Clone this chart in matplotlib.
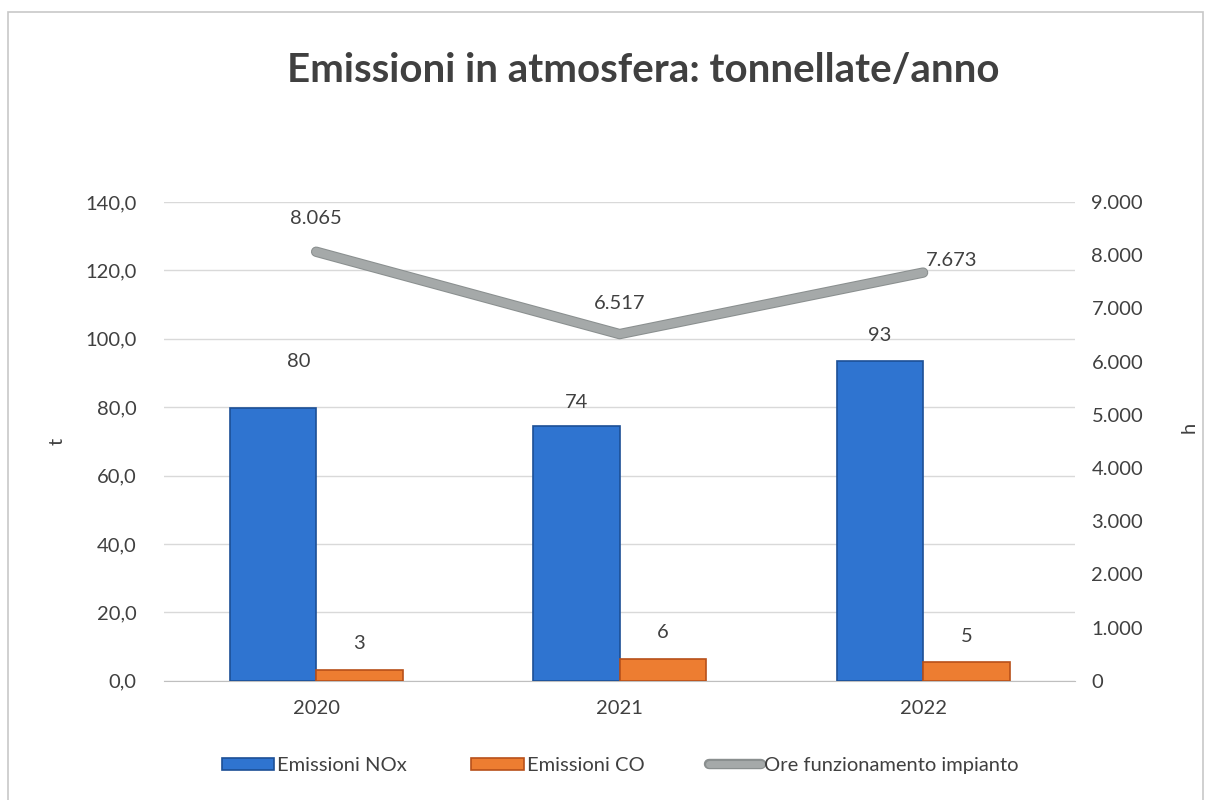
import matplotlib
matplotlib.use("Agg")
import matplotlib.pyplot as plt
import matplotlib.patheffects as pe
from matplotlib.patches import Rectangle
from matplotlib.ticker import FuncFormatter, MultipleLocator
import numpy as np

plt.rcParams["font.family"] = ["Lato", "DejaVu Sans"]

# dati
anni = ["2020", "2021", "2022"]
emissioni_nox = [79.8, 74.4, 93.4]
emissioni_co = [3.2, 6.4, 5.4]
ore_funzionamento = [8065, 6517, 7673]

testo = "#404040"
blu = "#2F74D0"
arancio = "#ED7D31"
grigio = "#A5A9A9"
fs = 14.5

fig = plt.figure(figsize=(12.09, 8.0), dpi=100)

# cornice del grafico
fig.patches.append(Rectangle((0.007, -0.01), 0.988, 0.995, transform=fig.transFigure,
                             fill=False, edgecolor="#c8c8c8", linewidth=1.2))

ax = fig.add_axes([0.136, 0.149, 0.753, 0.5985])
x = np.arange(len(anni))
w = 0.285

ax.bar(x - w / 2, emissioni_nox, w, color=blu, edgecolor="#1C4F96",
       linewidth=1.2, label="Emissioni NOx", zorder=3)
ax.bar(x + w / 2, emissioni_co, w, color=arancio, edgecolor="#B8501A",
       linewidth=1.2, label="Emissioni CO", zorder=3)

ax.set_ylim(0, 140)
ax.set_xlim(-0.5, 2.5)
ax.yaxis.set_major_locator(MultipleLocator(20))
ax.yaxis.set_major_formatter(FuncFormatter(lambda v, p: f"{v:.1f}".replace(".", ",")))
ax.set_xticks(x)
ax.set_xticklabels(anni)
ax.grid(axis="y", color="#d9d9d9", linewidth=1, zorder=0)
for s in ["top", "right", "left"]:
    ax.spines[s].set_visible(False)
ax.spines["bottom"].set_color("#bfbfbf")
ax.tick_params(axis="both", length=0, labelsize=fs, colors=testo, pad=14)
ax.tick_params(axis="y", pad=20)
ax.set_ylabel("t", fontsize=fs, color=testo, labelpad=14)

# etichette barre (px sopra la barra, spostamento x)
off_nox = [46, 24, 26]
dx_nox = [0.085, 0, 0]
for i, v in enumerate(emissioni_nox):
    ax.annotate(f"{v:.0f}", (x[i] - w / 2 + dx_nox[i], v), xytext=(0, off_nox[i] * 0.72),
                textcoords="offset points", ha="center", va="center", fontsize=fs, color=testo)
for i, v in enumerate(emissioni_co):
    ax.annotate(f"{v:.0f}", (x[i] + w / 2, v), xytext=(0, 26 * 0.72),
                textcoords="offset points", ha="center", va="center", fontsize=fs, color=testo)

# asse secondario: ore
ax2 = ax.twinx()
ax2.set_ylim(0, 9000)
ax2.yaxis.set_major_locator(MultipleLocator(1000))
ax2.yaxis.set_major_formatter(FuncFormatter(lambda v, p: f"{int(v):,}".replace(",", ".")))
for s in ax2.spines.values():
    s.set_visible(False)
ax2.tick_params(axis="y", length=0, labelsize=fs, colors=testo, pad=12)
ax2.set_ylabel("h", fontsize=fs, color=testo, rotation=90)
ax2.yaxis.set_label_coords(1.116, 0.53)

ax2.plot(x, ore_funzionamento, color=grigio, linewidth=6, solid_capstyle="round",
         label="Ore funzionamento impianto", zorder=4,
         path_effects=[pe.Stroke(linewidth=7.5, foreground="#8a8f8f"), pe.Normal()])

lab_off = [(0, 33), (0, 31), (29, 12)]
for i, v in enumerate(ore_funzionamento):
    ax2.annotate(f"{v:,}".replace(",", "."), (x[i], v),
                 xytext=(lab_off[i][0] * 0.72, lab_off[i][1] * 0.72),
                 textcoords="offset points", ha="center", va="center", fontsize=fs, color=testo)

fig.suptitle("Emissioni in atmosfera: tonnellate/anno", x=0.532, y=0.935,
             fontsize=29, fontweight="bold", color=testo)

h1, l1 = ax.get_legend_handles_labels()
h2, l2 = ax2.get_legend_handles_labels()
leg = fig.legend(h1 + h2, l1 + l2, loc="center", bbox_to_anchor=(0.513, 0.043), ncol=3,
                 frameon=False, fontsize=fs, labelcolor=testo, handlelength=2.6,
                 handleheight=0.6, handletextpad=0.15, columnspacing=3.2)
leg.legend_handles[2].set_linewidth(5)

fig.savefig("out.png", dpi=100)
